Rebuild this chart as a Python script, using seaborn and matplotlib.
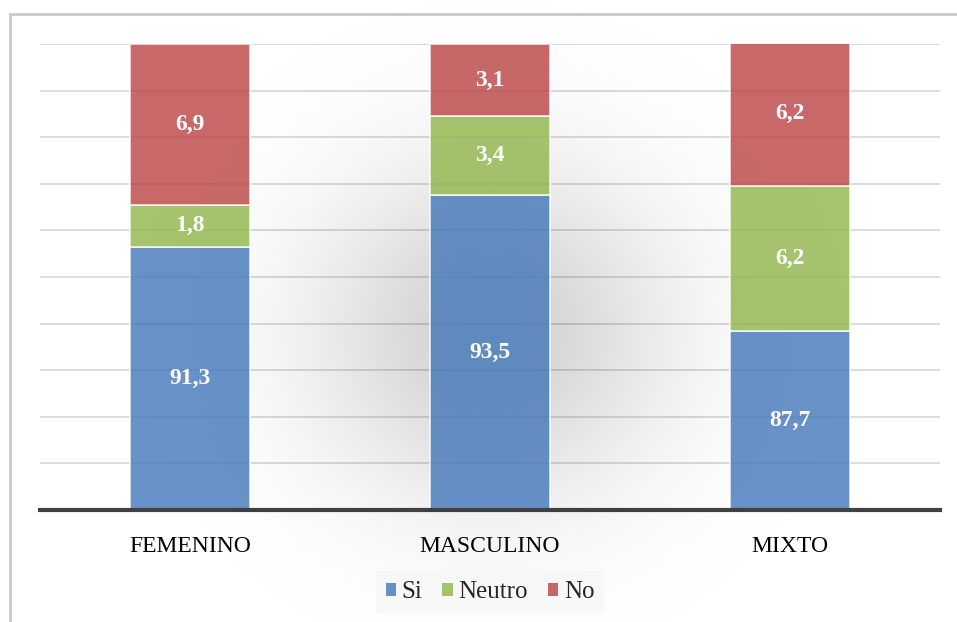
import numpy as np
import pandas as pd
import matplotlib
matplotlib.use("Agg")
import matplotlib.pyplot as plt
from matplotlib.patches import Patch
from matplotlib.lines import Line2D
import seaborn as sns

# Survey answers by group (percent)
categories = ["FEMENINO", "MASCULINO", "MIXTO"]
si = [91.3, 93.5, 87.7]
neutro = [1.8, 3.4, 6.2]
no = [6.9, 3.1, 6.2]
series_names = ["Si", "Neutro", "No"]
# Bar fills are slightly translucent so the backdrop shading shows through
colors = {"Si": "#467ABB", "Neutro": "#92B74C", "No": "#BC4747"}
bar_alpha = 0.82

df = pd.DataFrame({"grupo": categories, "Si": si, "Neutro": neutro, "No": no})

sns.set_theme(style="white")
plt.rcParams["font.family"] = ["Liberation Serif", "DejaVu Serif"]

W, H = 957, 622
fig = plt.figure(figsize=(W / 100, H / 100), dpi=100)
fig.patch.set_facecolor("white")
ax = fig.add_axes([40 / W, 1 - 510 / H, 900 / W, 466 / H])
ax.set_facecolor("none")

ymin = 80
# Stacked segments
bottom = np.zeros(len(categories))
for name in series_names:
    sns.barplot(data=df, x="grupo", y=name, color=colors[name], saturation=1,
                width=0.4, edgecolor="white", linewidth=1.2, ax=ax, zorder=2,
                alpha=bar_alpha, bottom=bottom.copy())
    bottom = bottom + df[name].to_numpy()

ax.set_ylim(ymin, 100)
ax.set_xlim(-0.5, 2.5)
ax.set_yticks(np.arange(80, 101, 2))
ax.set_yticklabels([])
ax.yaxis.grid(True, color="#d9d9d9", linewidth=1.3, zorder=0)
ax.set_axisbelow(True)
ax.tick_params(axis="both", length=0)
ax.set_xlabel("")
ax.set_ylabel("")
for s in ["left", "right", "top"]:
    ax.spines[s].set_visible(False)
ax.spines["bottom"].set_color("#404040")
ax.spines["bottom"].set_linewidth(3)
ax.spines["bottom"].set_zorder(4)
ax.set_xticks(range(len(categories)))
ax.set_xticklabels(categories, fontsize=17, color="black")
ax.tick_params(axis="x", pad=19)


def fmt(v):
    return f"{v:.1f}".replace(".", ",")


# Segment value labels at the middle of each visible segment
for i in range(len(categories)):
    lo = ymin
    hi = 0.0
    for name in series_names:
        hi += df[name][i]
        ax.text(i, (max(lo, ymin) + hi) / 2, fmt(df[name][i]), ha="center",
                va="center", color="white", fontsize=17, fontweight="bold", zorder=6)
        lo = hi

# Soft shadow behind the centre of the chart (under the bars, over the grid)
yy, xx = np.mgrid[0:H, 0:W]
r2 = ((xx - 490) / 128.0) ** 2 + ((yy - 332) / 120.0) ** 2
alpha = 0.18 * np.exp(-r2 / 2)
shade = np.zeros((H, W, 4))
shade[..., 3] = alpha
ax.imshow(shade, extent=[0, 1, 0, 1], transform=fig.transFigure, origin="upper",
          aspect="auto", zorder=1, clip_on=False, interpolation="bilinear")
ax.set_ylim(ymin, 100)
ax.set_xlim(-0.5, 2.5)

# Legend
handles = [Patch(facecolor=colors[n], edgecolor="none", alpha=bar_alpha) for n in series_names]
leg = fig.legend(handles, series_names, loc="center", bbox_to_anchor=(490 / W, 1 - 592 / H),
                 ncol=3, frameon=True, fontsize=18, handlelength=0.42, handleheight=0.42,
                 handletextpad=0.22, columnspacing=0.8, borderpad=0.4)
leg.get_frame().set_facecolor("#f7f7f7")
leg.get_frame().set_edgecolor("none")
leg.get_frame().set_boxstyle("square", pad=0.0)

# Chart frame
fig.add_artist(Line2D([10 / W, 1], [1 - 14 / H, 1 - 14 / H], color="#c8c8c8", linewidth=2))
fig.add_artist(Line2D([10 / W, 10 / W], [0, 1 - 14 / H], color="#c8c8c8", linewidth=2))

fig.savefig("out.png", dpi=100, facecolor="white")
